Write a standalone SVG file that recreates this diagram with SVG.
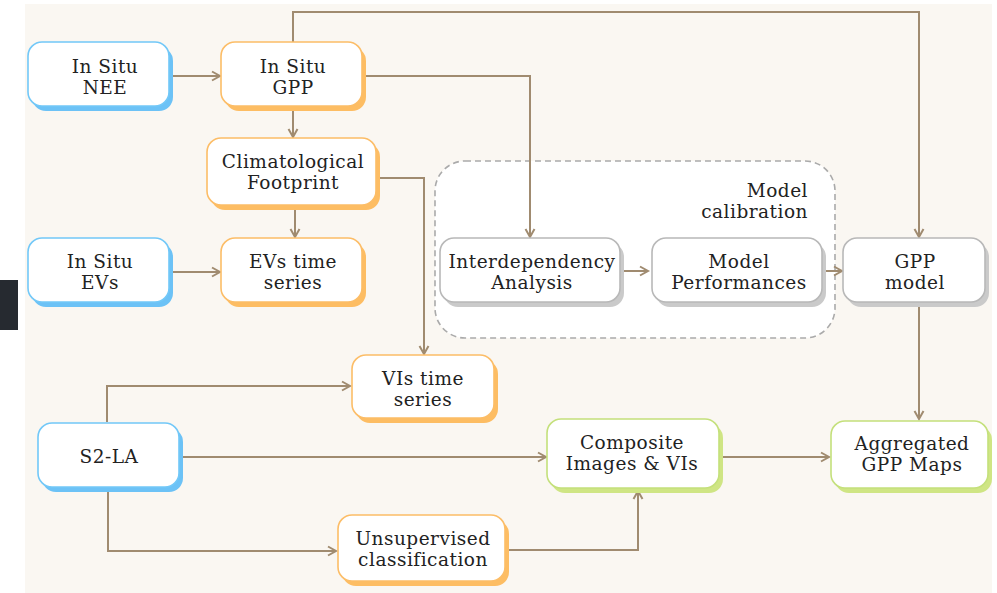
<svg xmlns="http://www.w3.org/2000/svg" width="997" height="593" viewBox="0 0 997 593">
  <defs>
    <marker id="arrow" markerUnits="userSpaceOnUse" markerWidth="12" markerHeight="12" refX="9" refY="5" orient="auto" overflow="visible">
      <path d="M1,0.5 L9,5 L1,9.5" fill="none" stroke="#a08b70" stroke-width="2" stroke-linejoin="miter"/>
    </marker>
    <style>
      .bg { fill: #faf7f2; }
      .link { fill: none; stroke: #a08b70; stroke-width: 2; marker-end: url(#arrow); }
      .box { fill: #ffffff; stroke-width: 1.6; }
      .blue .box { stroke: #72c8f8; }
      .blue .shade { fill: #6cc2f6; }
      .orange .box { stroke: #fcbd67; }
      .orange .shade { fill: #fdbd63; }
      .green .box { stroke: #c4e07b; }
      .green .shade { fill: #cfe584; }
      .gray .box { stroke: #b8b8b8; }
      .gray .shade { fill: #cacaca; }
      text { font-family: "DejaVu Serif", "Liberation Serif", serif; font-size: 18.5px; letter-spacing: 0.5px; fill: #222222; text-anchor: middle; }
      .group { fill: #ffffff; stroke: #aaaaaa; stroke-width: 1.6; stroke-dasharray: 6 4; }
    </style>
  </defs>

  <!-- page background and side tab -->
  <rect x="0" y="0" width="997" height="593" fill="#ffffff"/>
  <rect class="bg" x="25" y="4" width="967" height="589"/>
  <rect x="0" y="280" width="18" height="50" fill="#262a30"/>

  <!-- model calibration group -->
  <g id="model-calibration">
    <rect class="group" x="435" y="161" width="400" height="177" rx="30"/>
    <text x="808" y="197" style="text-anchor:end">Model</text>
    <text x="808" y="218" style="text-anchor:end">calibration</text>
  </g>

  <!-- connectors -->
  <g id="connectors">
    <path class="link" d="M169,76 L220,76"/>
    <path class="link" d="M293,107 L293,137"/>
    <path class="link" d="M295,206 L295,237"/>
    <path class="link" d="M169,272 L220,272"/>
    <path class="link" d="M293,42 L293,12 L919,12 L919,237"/>
    <path class="link" d="M364,76 L530,76 L530,237"/>
    <path class="link" d="M377,178 L424,178 L424,354"/>
    <path class="link" d="M622,271 L648,271"/>
    <path class="link" d="M823,271 L842,271"/>
    <path class="link" d="M919,303 L919,419"/>
    <path class="link" d="M107,422 L107,386 L350,386"/>
    <path class="link" d="M180,457 L546,457"/>
    <path class="link" d="M108,488 L108,551 L336,551"/>
    <path class="link" d="M507,550 L638,550 L638,491"/>
    <path class="link" d="M721,457 L829,457"/>
  </g>

  <!-- nodes -->
  <g id="in-situ-nee" class="blue">
    <rect class="shade" x="32" y="47" width="141" height="64" rx="14"/>
    <rect class="box" x="28" y="42" width="141" height="64" rx="14"/>
    <text x="105" y="73">In Situ</text>
    <text x="105" y="94">NEE</text>
  </g>

  <g id="in-situ-gpp" class="orange">
    <rect class="shade" x="225" y="47" width="141" height="64" rx="14"/>
    <rect class="box" x="221" y="42" width="141" height="64" rx="14"/>
    <text x="293" y="73">In Situ</text>
    <text x="293" y="94">GPP</text>
  </g>

  <g id="climatological-footprint" class="orange">
    <rect class="shade" x="211" y="143" width="169" height="67" rx="14"/>
    <rect class="box" x="207" y="138" width="169" height="67" rx="14"/>
    <text x="293" y="168">Climatological</text>
    <text x="293" y="189">Footprint</text>
  </g>

  <g id="in-situ-evs" class="blue">
    <rect class="shade" x="32" y="243" width="141" height="64" rx="14"/>
    <rect class="box" x="28" y="238" width="141" height="64" rx="14"/>
    <text x="100" y="268">In Situ</text>
    <text x="100" y="289">EVs</text>
  </g>

  <g id="evs-time-series" class="orange">
    <rect class="shade" x="225" y="243" width="141" height="64" rx="14"/>
    <rect class="box" x="221" y="238" width="141" height="64" rx="14"/>
    <text x="293" y="268">EVs time</text>
    <text x="293" y="289">series</text>
  </g>

  <g id="interdependency-analysis" class="gray">
    <rect class="shade" x="444" y="243" width="180" height="64" rx="14"/>
    <rect class="box" x="440" y="238" width="180" height="64" rx="14"/>
    <text x="532" y="268">Interdependency</text>
    <text x="532" y="289">Analysis</text>
  </g>

  <g id="model-performances" class="gray">
    <rect class="shade" x="656" y="243" width="170" height="64" rx="14"/>
    <rect class="box" x="652" y="238" width="170" height="64" rx="14"/>
    <text x="739" y="268">Model</text>
    <text x="739" y="289">Performances</text>
  </g>

  <g id="gpp-model" class="gray">
    <rect class="shade" x="847" y="243" width="142" height="64" rx="14"/>
    <rect class="box" x="843" y="238" width="142" height="64" rx="14"/>
    <text x="915" y="268">GPP</text>
    <text x="915" y="289">model</text>
  </g>

  <g id="vis-time-series" class="orange">
    <rect class="shade" x="356" y="360" width="142" height="63" rx="14"/>
    <rect class="box" x="352" y="355" width="142" height="63" rx="14"/>
    <text x="423" y="385">VIs time</text>
    <text x="423" y="406">series</text>
  </g>

  <g id="s2-la" class="blue">
    <rect class="shade" x="42" y="428" width="141" height="64" rx="14"/>
    <rect class="box" x="38" y="423" width="141" height="64" rx="14"/>
    <text x="109" y="463">S2-LA</text>
  </g>

  <g id="composite-images-vis" class="green">
    <rect class="shade" x="551" y="424" width="172" height="69" rx="14"/>
    <rect class="box" x="547" y="419" width="172" height="69" rx="14"/>
    <text x="632" y="449">Composite</text>
    <text x="632" y="470">Images &amp; VIs</text>
  </g>

  <g id="unsupervised-classification" class="orange">
    <rect class="shade" x="342" y="520" width="167" height="66" rx="14"/>
    <rect class="box" x="338" y="515" width="167" height="66" rx="14"/>
    <text x="423" y="545">Unsupervised</text>
    <text x="423" y="566">classification</text>
  </g>

  <g id="aggregated-gpp-maps" class="green">
    <rect class="shade" x="835" y="426" width="157" height="67" rx="14"/>
    <rect class="box" x="831" y="421" width="157" height="67" rx="14"/>
    <text x="912" y="450">Aggregated</text>
    <text x="912" y="471">GPP Maps</text>
  </g>
</svg>
